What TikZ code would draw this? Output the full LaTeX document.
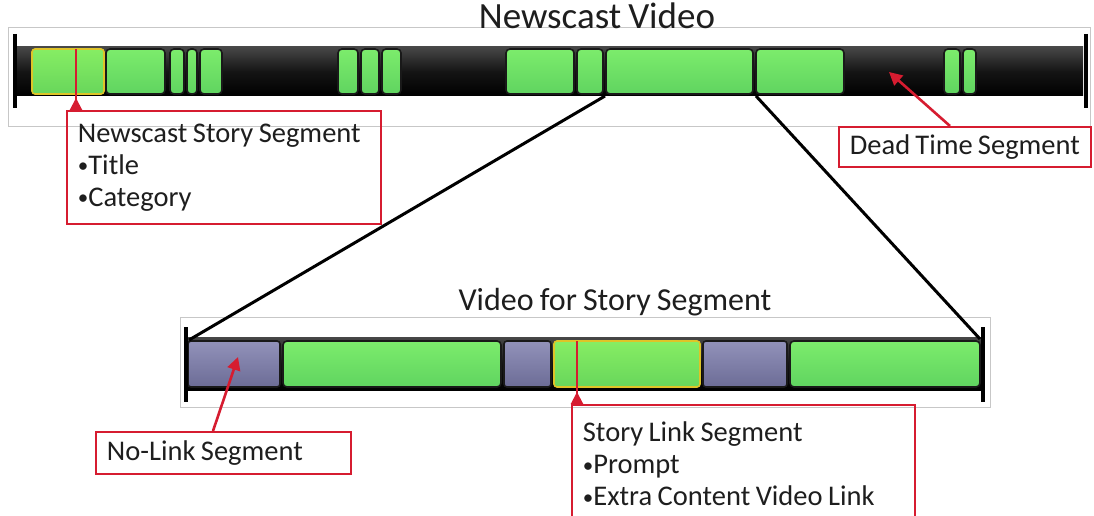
\documentclass[tikz,border=0pt]{standalone}
\usepackage{fontspec}
\setmainfont{Carlito}[WordSpace=0.85]
\usetikzlibrary{arrows.meta}
\definecolor{segGreen}{RGB}{96,212,96}
\definecolor{segGreenTop}{RGB}{124,236,108}
\definecolor{segPurple}{RGB}{108,108,150}
\definecolor{segPurpleTop}{RGB}{146,146,186}
\definecolor{markYellow}{RGB}{222,196,40}
\definecolor{calloutRed}{RGB}{214,28,48}
\definecolor{inkGray}{RGB}{30,30,30}
\newcommand\bul{\raisebox{1.5pt}{\fontsize{21}{21}\selectfont•}}
\tikzset{
  frame/.style = {draw=black!22, line width=0.8pt},
  bar/.style = {top color=black!72, bottom color=black, middle color=black!92},
  greenseg/.style = {draw=black!90, line width=1.6pt, rounded corners=4pt,
    top color=segGreenTop, bottom color=segGreen},
  purpleseg/.style = {draw=black!90, line width=1.6pt, rounded corners=3pt,
    top color=segPurpleTop, bottom color=segPurple},
  markseg/.style = {draw=markYellow, line width=1.6pt, rounded corners=3pt,
    top color=segGreenTop!92!yellow, bottom color=segGreen!95!yellow},
  tick/.style = {line width=4pt, black},
  zoomline/.style = {line width=3pt, black},
  callout/.style = {draw=calloutRed, line width=1.8pt, inner xsep=11pt,
    align=flush left, text=inkGray, font=\fontsize{28.5}{32}\selectfont},
  pointer/.style = {draw=calloutRed, line width=2.6pt, -{Triangle[length=13pt,width=13pt]}},
  marker/.style = {draw=calloutRed, line width=2pt, {Triangle[reversed,length=12pt,width=12pt]}-}
}
\begin{document}
\begin{tikzpicture}[x=1pt, y=-1pt]
  \clip (0,0) rectangle (1094,516);
  \fill[white] (0,0) rectangle (1094,516);
  % newscast video
  \draw[frame] (8,27) rectangle (1090,126);
  \node[text=inkGray, font=\fontsize{37}{40}\selectfont] (newscast) at (597,16) {Newscast Video};
  \fill[bar] (15,47) rectangle (1083,96);
  \foreach \a/\b in {106/165, 170/184, 187/197, 200/222, 338/358, 361/379, 382/401,
      506/574, 577/603, 606/753, 756/844, 944/960, 963/976}
    \draw[greenseg] (\a,49) rectangle (\b,94);
  \draw[markseg] (32,49) rectangle (104,94);
  \draw[tick] (15,34) -- (15,108);
  \draw[tick] (1086,34) -- (1086,108);
  \coordinate (zoomL) at (605,96);
  \coordinate (zoomR) at (756,96);
  % story segment
  \draw[frame] (180,317) rectangle (990,407);
  \node[text=inkGray, font=\fontsize{32}{36}\selectfont] (storyvideo) at (615,302) {Video for Story Segment};
  \fill[bar] (186,337) rectangle (983,390);
  \foreach \a/\b in {188/280, 504/551, 703/787}
    \draw[purpleseg] (\a,341) rectangle (\b,387);
  \foreach \a/\b in {283/501, 790/980}
    \draw[greenseg] (\a,341) rectangle (\b,387);
  \draw[markseg] (554,341) rectangle (700,387);
  \draw[tick] (186,327) -- (186,402);
  \draw[tick] (983,327) -- (983,402);
  \coordinate (subL) at (189,340);
  \coordinate (subR) at (980,339);
  \draw[zoomline] (zoomL) -- (subL);
  \draw[zoomline] (zoomR) -- (subR);
  % callouts
  \node[callout, anchor=north west, text width=292pt, minimum height=113pt] (storybox) at (66,110)
    {Newscast Story Segment\\\bul Title\\\bul Category};
  \coordinate (storymark) at (76,49);
  \draw[marker] ([xshift=10pt]storybox.north west) -- (storymark);
  \node[callout, anchor=north west, text width=230pt, minimum height=40pt] (deadbox) at (838,126)
    {Dead Time Segment};
  \coordinate (deadspot) at (889,72);
  \draw[pointer] ([xshift=112pt]deadbox.north west) -- (deadspot);
  \node[callout, anchor=north west, text width=233pt, minimum height=42pt] (nolinkbox) at (95,431)
    {No-Link Segment};
  \coordinate (nolinkspot) at (238,357);
  \draw[pointer] ([xshift=118pt]nolinkbox.north west) -- (nolinkspot);
  \node[callout, anchor=north west, text width=321pt, minimum height=118pt] (linkbox) at (571,404)
    {Story Link Segment\\\bul Prompt\\\bul Extra Content Video Link};
  \coordinate (linkmark) at (577,341);
  \draw[marker] ([xshift=6pt]linkbox.north west) -- (linkmark);
\end{tikzpicture}
\end{document}
